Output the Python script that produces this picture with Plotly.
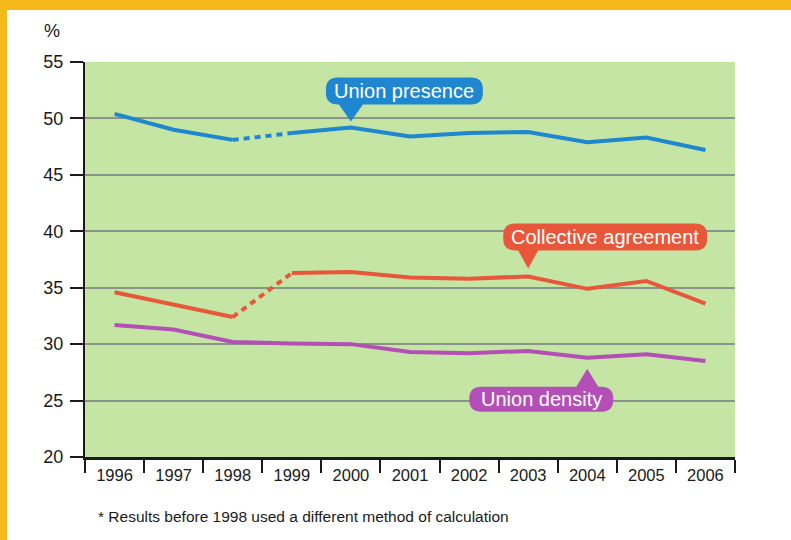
import plotly.graph_objects as go

# --- data -------------------------------------------------------------
years = ["1996", "1997", "1998", "1999", "2000", "2001",
         "2002", "2003", "2004", "2005", "2006"]
union_presence = [50.4, 49.0, 48.1, 48.7, 49.2, 48.4, 48.7, 48.8, 47.9, 48.3, 47.2]
collective_agreement = [34.6, 33.5, 32.4, 36.3, 36.4, 35.9, 35.8, 36.0, 34.9, 35.6, 33.6]
union_density = [31.7, 31.3, 30.2, 30.05, 30.0, 29.3, 29.2, 29.4, 28.8, 29.1, 28.5]
y_ticks = [20, 25, 30, 35, 40, 45, 50, 55]
footnote = "* Results before 1998 used a different method of calculation"

# --- styling ----------------------------------------------------------
BLUE = "#1f87d0"
ORANGE = "#e8573a"
PURPLE = "#b54fb8"
GREEN = "#c4e5a3"
YELLOW = "#f6b91b"
GRID = "#8a9488"
NARROW = "Liberation Sans Narrow, Arial Narrow, Liberation Sans, Arial"
SANS = "Liberation Sans, Arial, Helvetica"

L_PX, R_PX, T_PX, B_PX = 85, 56, 62, 83
W, H = 791, 540
break_idx = years.index("1998")  # method change: 1998 -> 1999 drawn dashed

fig = go.Figure()


def add_series(values, color, dashed_break):
    if dashed_break:
        segs = [(years[:break_idx + 1], values[:break_idx + 1], "solid"),
                (years[break_idx:break_idx + 2], values[break_idx:break_idx + 2], "6px,5px"),
                (years[break_idx + 1:], values[break_idx + 1:], "solid")]
    else:
        segs = [(years, values, "solid")]
    for xs, ys, dash in segs:
        fig.add_trace(go.Scatter(x=xs, y=ys, mode="lines", showlegend=False,
                                 line=dict(color=color, width=4, dash=dash)))


add_series(union_presence, BLUE, True)
add_series(collective_agreement, ORANGE, True)
add_series(union_density, PURPLE, False)


def bubble_path(left, right, bottom, top, r, tip_y, half_w):
    """Rounded label box with a pointer; pixel units relative to the point
    (y positive upward). Pointer goes down if the box is above the point."""
    if bottom > tip_y:
        p = [f"M{left + r},{top}", f"L{right - r},{top}",
             f"Q{right},{top} {right},{top - r}", f"L{right},{bottom + r}",
             f"Q{right},{bottom} {right - r},{bottom}",
             f"L{half_w},{bottom}", f"L0,{tip_y}", f"L{-half_w},{bottom}",
             f"L{left + r},{bottom}", f"Q{left},{bottom} {left},{bottom + r}",
             f"L{left},{top - r}", f"Q{left},{top} {left + r},{top}"]
    else:
        # pointer on the top edge of a box sitting below the point
        p = [f"M{left + r},{top}", f"L{-half_w},{top}", f"L0,{tip_y}",
             f"L{half_w},{top}", f"L{right - r},{top}",
             f"Q{right},{top} {right},{top - r}", f"L{right},{bottom + r}",
             f"Q{right},{bottom} {right - r},{bottom}",
             f"L{left + r},{bottom}", f"Q{left},{bottom} {left},{bottom + r}",
             f"L{left},{top - r}", f"Q{left},{top} {left + r},{top}"]
    return " ".join(p) + " Z"


def add_bubble(text, year, values, color, left, right, bottom, top, tip_y, half_w):
    i = years.index(year)
    fig.add_shape(type="path", xref="x", yref="y", xsizemode="pixel",
                  ysizemode="pixel", xanchor=i, yanchor=values[i],
                  path=bubble_path(left, right, bottom, top, 12, tip_y, half_w),
                  fillcolor=color, line=dict(width=0), layer="above")
    fig.add_annotation(x=i, y=values[i], xref="x", yref="y", text=text,
                       showarrow=False, xshift=(left + right) / 2,
                       yshift=(top + bottom) / 2,
                       font=dict(family=SANS, size=20, color="white"))


add_bubble("Union presence", "2000", union_presence, BLUE, -25, 132, 23, 50, 6, 12)
add_bubble("Collective agreement", "2003", collective_agreement, ORANGE, -25, 179, 26, 53, 8, 10)
add_bubble("Union density", "2004", union_density, PURPLE, -118, 26, -54, -29, -11, 11)

# green panel runs slightly past the last boundary tick
fig.add_shape(type="rect", xref="x", yref="paper", xsizemode="pixel",
              xanchor=10.5, x0=0, x1=5, y0=0, y1=1, fillcolor=GREEN,
              line=dict(width=0), layer="below")

# page frame strips
plot_w = W - L_PX - R_PX
plot_h = H - T_PX - B_PX
fig.add_shape(type="rect", xref="paper", yref="paper",
              x0=(0 - L_PX) / plot_w, x1=(7 - L_PX) / plot_w,
              y0=(H - B_PX - H) / plot_h, y1=(H - B_PX) / plot_h,
              fillcolor=YELLOW, line=dict(width=0), layer="below")
fig.add_shape(type="rect", xref="paper", yref="paper",
              x0=(0 - L_PX) / plot_w, x1=(W - L_PX) / plot_w,
              y0=(H - B_PX - 10) / plot_h, y1=(H - B_PX) / plot_h,
              fillcolor=YELLOW, line=dict(width=0), layer="below")

fig.add_annotation(xref="paper", yref="paper", x=(52 - L_PX) / plot_w,
                   y=(H - B_PX - 31) / plot_h, text="%", showarrow=False,
                   xanchor="center", yanchor="middle",
                   font=dict(family=SANS, size=18, color="#1a1a1a"))
fig.add_annotation(xref="paper", yref="paper", x=(96 - L_PX) / plot_w,
                   y=(H - B_PX - 516) / plot_h, text=footnote, showarrow=False,
                   xanchor="left", yanchor="middle",
                   font=dict(family=NARROW, size=15.5, color="#1a1a1a"))

fig.update_layout(
    width=W, height=H, autosize=False,
    margin=dict(l=L_PX, r=R_PX, t=T_PX, b=B_PX, pad=0),
    paper_bgcolor="white", plot_bgcolor=GREEN,
    xaxis=dict(type="category", categoryorder="array", categoryarray=years,
               range=[-0.5, 10.5], tickson="boundaries", ticks="outside",
               ticklen=13, tickwidth=2, tickcolor="#1a1a1a",
               showline=True, linecolor="#1a1a1a", linewidth=2.5,
               showgrid=False, zeroline=False, ticklabelstandoff=1,
               tickfont=dict(family=NARROW, size=16.5, color="#1a1a1a")),
    yaxis=dict(range=[20, 55], tickvals=y_ticks, ticks="outside", ticklen=13,
               tickwidth=2, tickcolor="#1a1a1a", showline=True,
               linecolor="#1a1a1a", linewidth=2, showgrid=True,
               gridcolor=GRID, gridwidth=1.5, zeroline=False,
               ticklabelstandoff=3,
               tickfont=dict(family=SANS, size=18, color="#1a1a1a")),
)

fig.write_html("out.html")
